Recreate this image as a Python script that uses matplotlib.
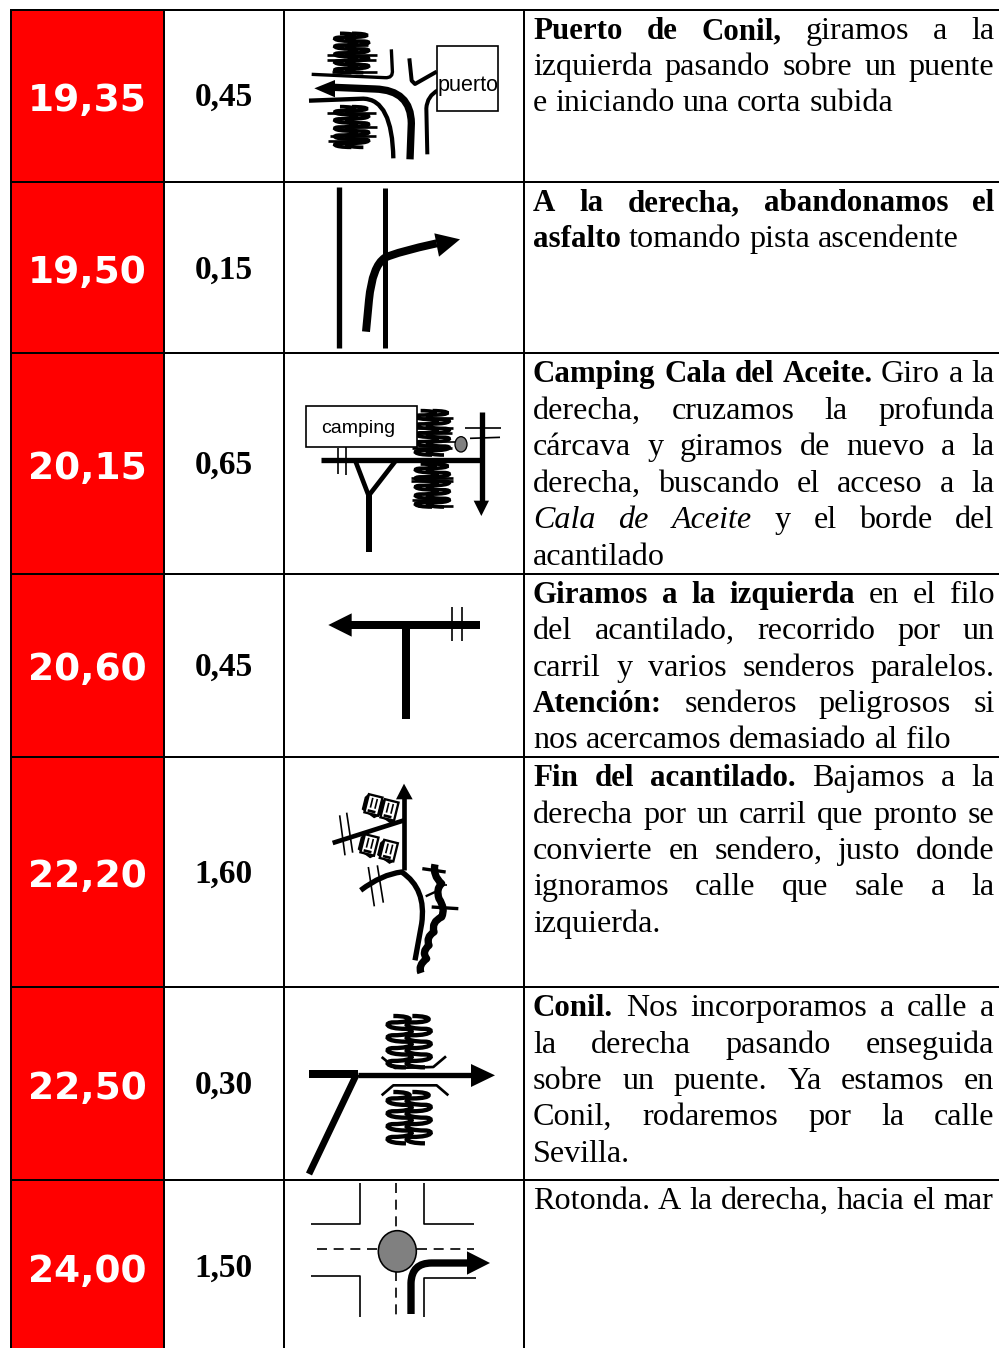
import numpy as np
import matplotlib
matplotlib.use("Agg")
import matplotlib.pyplot as plt
from matplotlib.path import Path
from matplotlib.patches import PathPatch, Polygon, Rectangle, Ellipse

# ---------- table content ----------
TOTAL_KM = ["19,35", "19,50", "20,15", "20,60", "22,20", "22,50", "24,00"]
PARTIAL_KM = ["0,45", "0,15", "0,65", "0,45", "1,60", "0,30", "1,50"]
DESCRIPTIONS = [
    ["**Puerto de Conil,** giramos a la", "izquierda pasando sobre un puente", "e iniciando una corta subida"],
    ["**A la derecha, abandonamos el**", "**asfalto** tomando pista ascendente"],
    ["**Camping Cala del Aceite.** Giro a la", "derecha, cruzamos la profunda", "cárcava y giramos de nuevo a la",
     "derecha, buscando el acceso a la", "//Cala de Aceite// y el borde del", "acantilado"],
    ["**Giramos a la izquierda** en el filo", "del acantilado, recorrido por un", "carril y varios senderos paralelos.",
     "**Atención:** senderos peligrosos si", "nos acercamos demasiado al filo"],
    ["**Fin del acantilado.** Bajamos a la", "derecha por un carril que pronto se", "convierte en sendero, justo donde",
     "ignoramos calle que sale a la", "izquierda."],
    ["**Conil.** Nos incorporamos a calle a", "la derecha pasando enseguida", "sobre un puente. Ya estamos en",
     "Conil, rodaremos por la calle", "Sevilla."],
    ["Rotonda. A la derecha, hacia el mar"],
]
JUSTIFIED = [
    [True, True, False], [True, False], [True, True, True, True, True, False],
    [True, True, True, True, False], [True, True, True, True, False],
    [True, True, True, True, False], [False],
]

# ---------- layout (pixels) ----------
W, H = 999, 1348
ROW_Y = [9.5, 182, 353, 574, 757, 987, 1180, 1349]
COL_X = [10.5, 164, 284, 524]
TEXT_L, TEXT_R = 533, 994.5
LINE_CENTERS = [[29, 65, 101], [201, 237], [372, 409, 445, 482, 518, 555],
                [593, 629, 666, 702, 738], [776, 813, 849, 885, 922],
                [1006, 1043, 1079, 1115, 1152], [1199]]
NUM_Y = [97, 269, 465, 666, 873, 1085, 1268]
PART_Y = [95, 268, 463, 665, 872, 1083, 1266]
BODY_FONT = "Liberation Serif"
PX = 0.72

fig = plt.figure(figsize=(W / 100, H / 100), dpi=100)
ax = fig.add_axes([0, 0, 1, 1])
ax.set_xlim(0, W)
ax.set_ylim(H, 0)
ax.axis("off")

# ---------- grid ----------
ax.add_patch(Rectangle((COL_X[0], ROW_Y[0]), COL_X[1] - COL_X[0], H - ROW_Y[0] + 2, fc="#ff0000", ec="none", zorder=1))
for y in ROW_Y[:-1]:
    ax.plot([COL_X[0] - 1, W + 2], [y, y], color="black", lw=2 * PX, solid_capstyle="butt", zorder=5)
for x in COL_X:
    ax.plot([x, x], [ROW_Y[0] - 1, H + 2], color="black", lw=2 * PX, solid_capstyle="butt", zorder=5)

# ---------- numbers ----------
for txt, y in zip(TOTAL_KM, NUM_Y):
    ax.text((COL_X[0] + COL_X[1]) / 2, y + 4, txt, color="white", family="DejaVu Sans", weight="bold",
            fontsize=27, ha="center", va="center", zorder=6)
for txt, y in zip(PARTIAL_KM, PART_Y):
    ax.text(223.5, y + 2, txt, color="black", family="Liberation Serif", weight="bold",
            fontsize=24, ha="center", va="center", zorder=6)

# ---------- justified body text ----------
fig.canvas.draw()
rend = fig.canvas.get_renderer()


def font_kw(style):
    return dict(family=BODY_FONT, fontsize=22.3 if style == "b" else 23.15,
                weight="bold" if style == "b" else "normal",
                style="italic" if style == "i" else "normal")


def width(s, style):
    t = ax.text(0, 0, s, **font_kw(style))
    w = t.get_window_extent(rend).width
    t.remove()
    return w


def parse(line):
    words = []
    style = "n"
    for tok in line.split():
        cur = style
        if tok.startswith("**"):
            tok = tok[2:]; cur = style = "b"
        elif tok.startswith("//"):
            tok = tok[2:]; cur = style = "i"
        if tok.endswith("**") or tok.endswith("//"):
            tok = tok[:-2]; style = "n"
        words.append((tok, cur))
    return words


SPACE = width("a a", "n") - width("aa", "n")
for lines, centers, just in zip(DESCRIPTIONS, LINE_CENTERS, JUSTIFIED):
    for line, yc, j in zip(lines, centers, just):
        words = parse(line)
        ws = [width(w, s) for w, s in words]
        gap = SPACE
        if j and len(words) > 1:
            gap = (TEXT_R - TEXT_L - sum(ws)) / (len(words) - 1)
        x = TEXT_L
        for (w, s), wd in zip(words, ws):
            ax.text(x, yc + 10, w, color="black", ha="left", va="baseline", zorder=6, **font_kw(s))
            x += wd + gap


# ---------- icon helpers: coordinates relative to an icon origin, third-pixel units ----------
def T(o, p):
    return (o[0] + p[0] / 3, o[1] + p[1] / 3)


def stroke(o, pts, w, color="black", z=3, cap="butt"):
    p = [T(o, q) for q in pts]
    ax.plot([a for a, _ in p], [b for _, b in p], color=color, lw=w / 3 * PX,
            solid_capstyle=cap, solid_joinstyle="round", zorder=z)


def curve(o, start, segs, w, z=3):
    """segs: (x,y) is line-to, (cx,cy,x,y) is quadratic."""
    v = [T(o, start)]
    c = [Path.MOVETO]
    for s in segs:
        if len(s) == 2:
            v.append(T(o, s)); c.append(Path.LINETO)
        else:
            v += [T(o, s[:2]), T(o, s[2:])]; c += [Path.CURVE3, Path.CURVE3]
    ax.add_patch(PathPatch(Path(v, c), fc="none", ec="black", lw=w / 3 * PX, capstyle="butt", joinstyle="round", zorder=z))


def head(o, pts, z=4):
    ax.add_patch(Polygon([T(o, p) for p in pts], closed=True, fc="black", ec="none", zorder=z))


def squiggle(o, x, y0, y1, n, amp, w, z=3):
    v = [T(o, (x - 0.9 * amp, y0))]
    c = [Path.MOVETO]
    step = (y1 - y0) / n
    for i in range(n):
        s = 1 if i % 2 == 0 else -1
        a, b = y0 + i * step, y0 + (i + 1) * step
        v += [T(o, (x + s * 2.2 * amp, a)), T(o, (x + s * 2.2 * amp, b)), T(o, (x - s * 0.9 * amp, b))]
        c += [Path.CURVE4] * 3
    ax.add_patch(PathPatch(Path(v, c), fc="none", ec="black", lw=w / 3 * PX, zorder=z))


def tree(o, x, y0, y1, bars):
    for dx in (-18, 18):
        squiggle(o, x + dx, y0, y1, 10, 19, 11)
    for by, bx0, bx1 in bars:
        stroke(o, [(bx0, by), (bx1, by)], 8)


def box(o, x0, y0, x1, y1, label, size, cx, cy):
    a = T(o, (x0, y0)); b = T(o, (x1, y1))
    ax.add_patch(Rectangle(a, b[0] - a[0], b[1] - a[1], fc="white", ec="black", lw=5 / 3 * PX, zorder=4))
    c = T(o, (cx, cy))
    ax.text(c[0], c[1], label, family="Liberation Sans", fontsize=size, ha="center", va="center", color="black", zorder=6)


def building(o, x, y, ang):
    t = np.radians(ang)
    R = np.array([[np.cos(t), -np.sin(t)], [np.sin(t), np.cos(t)]])
    rect = np.array([(-18, -30), (24, -30), (24, 26), (-18, 26)], float)
    back = np.array([(-26, -18), (-18, -30), (24, 26), (14, 34), (-26, 18)], float)
    ax.add_patch(Polygon([T(o, tuple(R @ p + (x, y))) for p in back], closed=True, fc="black", ec="black", lw=1, zorder=4))
    ax.add_patch(Polygon([T(o, tuple(R @ p + (x, y))) for p in rect], closed=True, fc="white", ec="black", lw=7 / 3 * PX, zorder=4))
    for dx in (-4, 10):
        a = R @ np.array((dx, -22.0)) + (x, y)
        b = R @ np.array((dx, 8.0)) + (x, y)
        stroke(o, [tuple(a), tuple(b)], 5, z=5)
    a = R @ np.array((-10.0, 18.0)) + (x, y)
    b = R @ np.array((14.0, 18.0)) + (x, y)
    stroke(o, [tuple(a), tuple(b)], 8, z=5)


# Icon 1: puerto
o = (285, 10)
tree(o, 200, 70, 188, [(135, 125, 275), (150, 125, 272), (185, 140, 275), (105, 160, 250)])
tree(o, 200, 290, 412, [(308, 125, 272), (350, 150, 275), (378, 135, 272), (392, 128, 250)])
curve(o, (80, 193), [(300, 203), (325, 205, 322, 180), (319, 118)], 10)
curve(o, (375, 448), [(379, 340), (378, 240, 270, 237), (145, 232)], 22)
head(o, [(88, 235), (150, 210), (150, 262)])
curve(o, (72, 272), [(235, 266), (322, 268, 325, 445)], 13)
curve(o, (427, 433), [(424, 295), (426, 258, 460, 240)], 12)
stroke(o, [(373, 145), (380, 212), (390, 222), (455, 185)], 12)
box(o, 455, 108, 638, 303, "puerto", 15.5, 549, 228)

# Icon 2: derecha
stroke(o, [(162, 530), (162, 1015)], 16)
stroke(o, [(301, 535), (301, 1015)], 15)
curve(o, (243, 965), [(252, 870), (262, 768, 300, 743), (340, 725, 455, 700)], 24)
head(o, [(448, 670), (525, 688), (462, 740)])

# Icon 3: camping
o = (285, 355)
stroke(o, [(108, 314), (590, 314)], 16)
stroke(o, [(590, 172), (590, 440)], 16)
head(o, [(566, 437), (612, 437), (589, 483)])
stroke(o, [(251, 590), (251, 420)], 18)
stroke(o, [(212, 320), (251, 422), (330, 320)], 14)
stroke(o, [(158, 278), (158, 358)], 5)
stroke(o, [(184, 270), (184, 360)], 5)
stroke(o, [(540, 218), (647, 218)], 5)
stroke(o, [(555, 250), (645, 247)], 5)
tree(o, 442, 167, 300, [(190, 378, 505), (220, 380, 505), (280, 380, 500), (235, 385, 500)])
tree(o, 442, 327, 456, [(368, 378, 505), (378, 378, 505), (452, 400, 505), (435, 380, 495)])
stroke(o, [(470, 262), (512, 262)], 5)
ax.add_patch(Ellipse(T(o, (528, 268)), 36 / 3, 46 / 3, fc="#808080", ec="black", lw=1.3 * PX, zorder=5))
box(o, 62, 154, 395, 277, "camping", 14, 220, 220)

# Icon 4: T junction
stroke(o, [(195, 810), (585, 810)], 24)
head(o, [(130, 810), (200, 775), (200, 845)])
stroke(o, [(363, 820), (363, 1092)], 24)
stroke(o, [(500, 757), (500, 858)], 5)
stroke(o, [(530, 757), (530, 858)], 5)

# Icon 5: acantilado
o = (285, 757)
stroke(o, [(357, 340), (357, 120)], 14)
head(o, [(357, 80), (383, 127), (333, 127)])
stroke(o, [(143, 258), (357, 190)], 14)
stroke(o, [(164, 175), (180, 295)], 5)
stroke(o, [(185, 167), (203, 287)], 5)
stroke(o, [(250, 330), (268, 448)], 5)
stroke(o, [(277, 325), (295, 437)], 5)
curve(o, (227, 400), [(290, 352, 350, 345), (425, 395, 410, 500), (390, 610)], 16)
for bx, by, ang in [(262, 145, 14), (310, 160, 14), (250, 265, 14), (308, 282, 14)]:
    building(o, bx, by, ang)
curve(o, (408, 648), [(398, 625, 425, 605), (408, 585, 432, 565), (422, 540, 447, 525),
                      (438, 495, 470, 480), (482, 455, 462, 425), (452, 395, 470, 380),
                      (442, 355, 450, 322)], 22)
stroke(o, [(412, 335), (482, 345)], 10)
stroke(o, [(440, 450), (520, 455)], 10)
stroke(o, [(422, 418), (450, 405)], 7)
stroke(o, [(470, 385), (485, 385)], 5)

# Icon 6: Conil
o = (285, 988)
stroke(o, [(72, 258), (218, 258)], 24)
stroke(o, [(215, 258), (72, 558)], 20)
stroke(o, [(218, 262), (560, 262)], 16)
head(o, [(558, 228), (630, 262), (558, 297)])
stroke(o, [(290, 207), (330, 240), (445, 237), (483, 205)], 8)
stroke(o, [(290, 322), (325, 292), (455, 292), (490, 322)], 8)
for sx in (344, 401):
    squiggle(o, sx, 84, 238, 8, 21, 13)
    squiggle(o, sx, 312, 466, 8, 21, 13)

# Icon 7: rotonda
stroke(o, [(78, 707), (225, 707), (225, 585)], 5)
stroke(o, [(418, 585), (418, 707), (566, 707)], 5)
stroke(o, [(78, 865), (225, 865), (225, 987)], 5)
stroke(o, [(418, 987), (418, 870), (572, 870)], 5)
for seg in ([(332, 585), (332, 725)], [(332, 850), (332, 985)], [(97, 784), (280, 784)], [(395, 784), (566, 784)]):
    p = [T(o, q) for q in seg]
    ax.plot([a for a, _ in p], [b for _, b in p], color="black", lw=5 / 3 * PX, dashes=(6, 4), zorder=3)
ax.add_patch(Ellipse(T(o, (337, 790)), 114 / 3, 124 / 3, fc="#808080", ec="black", lw=1.6 * PX, zorder=4))
curve(o, (378, 978), [(378, 885), (380, 825, 440, 825), (550, 825)], 22, z=5)
head(o, [(546, 790), (615, 825), (546, 860)], z=5)

fig.savefig("out.png", dpi=100, facecolor="white")
